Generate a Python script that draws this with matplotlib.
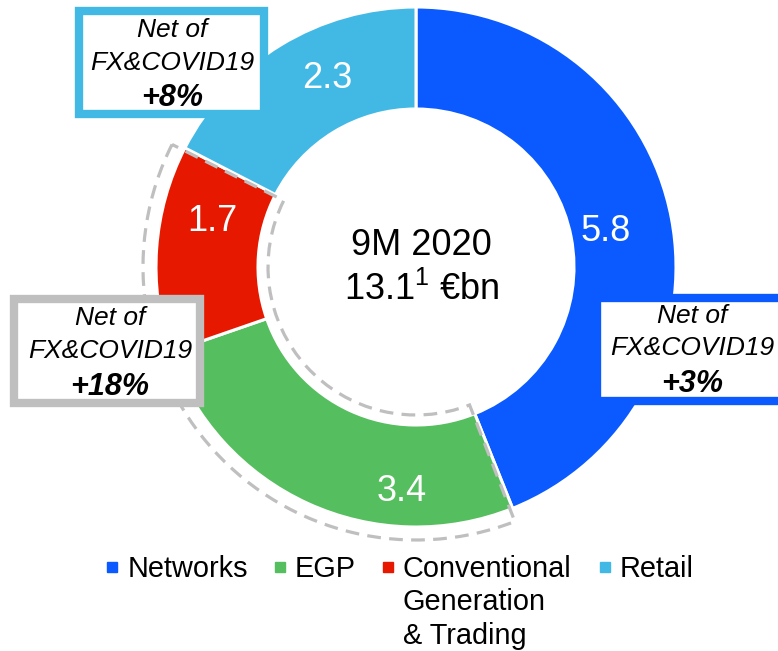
import matplotlib
matplotlib.use("Agg")
import matplotlib.pyplot as plt
from matplotlib.patches import Rectangle, Wedge
import numpy as np

# ---------------- data ----------------
categories = ["Networks", "EGP", "Conventional\nGeneration\n& Trading", "Retail"]
values = [5.8, 3.4, 1.7, 2.3]
value_labels = ["5.8", "3.4", "1.7", "2.3"]
colors = ["#0A5AFF", "#55BE5E", "#E61900", "#42B9E5"]
center_title = "9M 2020"
center_total = "13.1$^{1}$ €bn"
note_lines = ["Net of", "FX&COVID19"]
note_growth = ["+3%", "+18%", "+8%"]          # Networks, EGP+Conventional, Retail

# ---------------- style ----------------
plt.rcParams["font.family"] = ["Liberation Sans", "DejaVu Sans"]
plt.rcParams["mathtext.fontset"] = "custom"
plt.rcParams["mathtext.rm"] = "Liberation Sans"
plt.rcParams["mathtext.it"] = "Liberation Sans:italic"
plt.rcParams["mathtext.default"] = "regular"

W, H = 778, 651
CX, CY, R = 416, 267, 260  # donut centre and radius in pixels


def P(x, y):
    """pixel -> data coordinates (1 data unit = R px)"""
    return (x - CX) / R, (CY - y) / R


fig = plt.figure(figsize=(W / 100, H / 100), dpi=100)
ax = fig.add_axes([0, 0, 1, 1])

inner = 158 / R
ax.pie(values, colors=colors, startangle=90, counterclock=False, radius=1,
       wedgeprops=dict(width=1 - inner, edgecolor="white", linewidth=2.2))
ax.set_xlim(-CX / R, (W - CX) / R)
ax.set_ylim((CY - H) / R, CY / R)
ax.set_aspect("equal")
ax.axis("off")

# slice boundaries (degrees, clockwise from 12 o'clock)
cum = np.cumsum([0] + values)
total = cum[-1]
bound = 90 - 360 * cum / total

# value labels inside slices (angle, radius layout)
lab_ang = [11.6, -93.6, 166.5, 114.9]
lab_rad = [0.746, 0.852, 0.807, 0.814]
fs_val = 26
for a, r, t in zip(lab_ang, lab_rad, value_labels):
    x, y = r * np.cos(np.radians(a)), r * np.sin(np.radians(a))
    ax.text(x, y - 0.36 * fs_val / 0.72 / R, t, color="white", fontsize=fs_val,
            ha="center", va="baseline", zorder=5)

# dashed outline around EGP + Conventional
theta_start = bound[3] + 0.6   # red/retail boundary
theta_end = bound[1] + 360 - 0.6  # blue/green boundary
dash = Wedge((0, 0), 273 / R, theta_start, theta_end, width=(273 - 148) / R,
             fill=False, edgecolor="#BFBFBF", linewidth=2.3,
             linestyle=(0, (4.3, 2.6)), zorder=4)
ax.add_patch(dash)

# centre text
x, y = P(421.5, 255)
ax.text(x, y, center_title, fontsize=26, ha="center", va="baseline", zorder=6)
x, y = P(422, 300)
ax.text(x, y, center_total, fontsize=26, ha="center", va="baseline", zorder=6)


# annotation boxes
def box(x0, y0, x1, y1, ec):
    (a, b), (c, d) = P(x0, y1), P(x1, y0)
    ax.add_patch(Rectangle((a, b), c - a, d - b, facecolor="white", edgecolor=ec,
                           linewidth=6, zorder=7, joinstyle="miter", clip_on=True))


def note(xc, baselines, growth):
    fs = 19
    for t, yb in zip(note_lines, baselines[:2]):
        x, y = P(xc, yb)
        ax.text(x, y, t, fontsize=fs, style="italic", ha="center", va="baseline", zorder=8)
    x, y = P(xc, baselines[2])
    ax.text(x, y, growth, fontsize=22, style="italic", weight="bold",
            ha="center", va="baseline", zorder=8)


box(79, 11, 264, 114, colors[3])
note(172, [37, 70, 106], note_growth[2])

box(14, 299, 200, 403, "#BFBFBF")
note(110, [325, 358, 395], note_growth[1])

box(597, 297.5, 820, 401, colors[0])
note(692, [323, 355, 392], note_growth[0])

# legend
sq_x = [112, 280, 388, 605]
tx_x = [128, 295, 403, 620]
for sx, tx, c, lab in zip(sq_x, tx_x, colors, categories):
    x, y = P(sx, 567)
    ax.plot([x], [y], marker="s", ms=7, color=c, mec=c, linestyle="none", zorder=9)
    for i, line in enumerate(lab.split("\n")):
        x, y = P(tx, 577 + i * 33.5)
        ax.text(x, y, line, fontsize=20.8, ha="left", va="baseline", zorder=9)

fig.savefig("out.png", dpi=100)
